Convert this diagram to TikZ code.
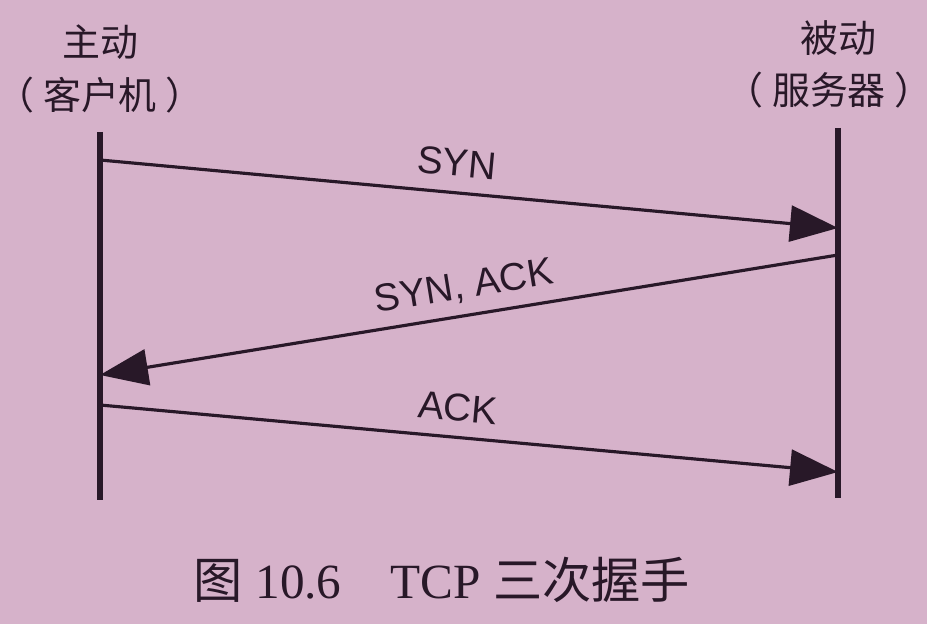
\documentclass[tikz,border=0pt]{standalone}
\usepackage{fontspec}
\setmainfont{Liberation Serif}
\setsansfont{Liberation Sans}
\newfontfamily\cjk{Noto Sans CJK SC}
\usetikzlibrary{arrows.meta}
\definecolor{paper}{RGB}{214,178,202}
\definecolor{ink}{RGB}{40,24,40}
\newcommand{\wide}[1]{\kern-1.8mm（\kern0.9mm#1\kern0.9mm）\kern-1.8mm}
\begin{document}
\begin{tikzpicture}[x=1cm,y=-1cm,
    lifeline/.style={ink, line width=1.5pt},
    msg/.style={ink, line width=0.9pt, -{Triangle[length=4.8mm,width=3.6mm]}},
    msglabel/.style={ink, font=\sffamily\fontsize{11}{13}\selectfont},
    head/.style={ink, inner sep=1pt, font=\cjk\fontsize{10.8}{12}\selectfont}]
  \fill[paper] (0,0) rectangle (9.27,6.24);
  \useasboundingbox (0,0) rectangle (9.27,6.24);
  % the two ends
  \node[head] (cl) at (1.0,0.42) {主动};
  \node[head] (clx) at (1.0,0.95) {\wide{客户机}};
  \node[head] (sv) at (8.38,0.38) {被动};
  \node[head] (svx) at (8.29,0.90) {\wide{服务器}};
  \coordinate (cltop) at (1.0,1.32);
  \coordinate (clbot) at (1.0,5.00);
  \coordinate (svtop) at (8.38,1.28);
  \coordinate (svbot) at (8.38,4.98);
  \draw[lifeline] (cltop) -- (clbot);
  \draw[lifeline] (svtop) -- (svbot);
  % messages
  \coordinate (a1) at (1.0,1.60);
  \coordinate (b1) at (8.38,2.28);
  \coordinate (b2) at (8.38,2.55);
  \coordinate (a2) at (1.0,3.75);
  \coordinate (a3) at (1.0,4.05);
  \coordinate (b3) at (8.38,4.72);
  \draw[msg] (a1) -- (b1);
  \draw[msg] (b2) -- (a2);
  \draw[msg] (a3) -- (b3);
  \node[msglabel, rotate=-5.3] (syn) at (4.57,1.63) {SYN};
  \node[msglabel, rotate=9.2] (synack) at (4.64,2.87) {SYN, ACK};
  \node[msglabel, rotate=-5.2] (ack) at (4.58,4.08) {ACK};
  % caption
  \node[ink, font=\fontsize{14}{16}\selectfont] (cap) at (4.42,5.80)
    {{\cjk 图} 10.6\quad TCP {\cjk 三次握手}};
\end{tikzpicture}
\end{document}
